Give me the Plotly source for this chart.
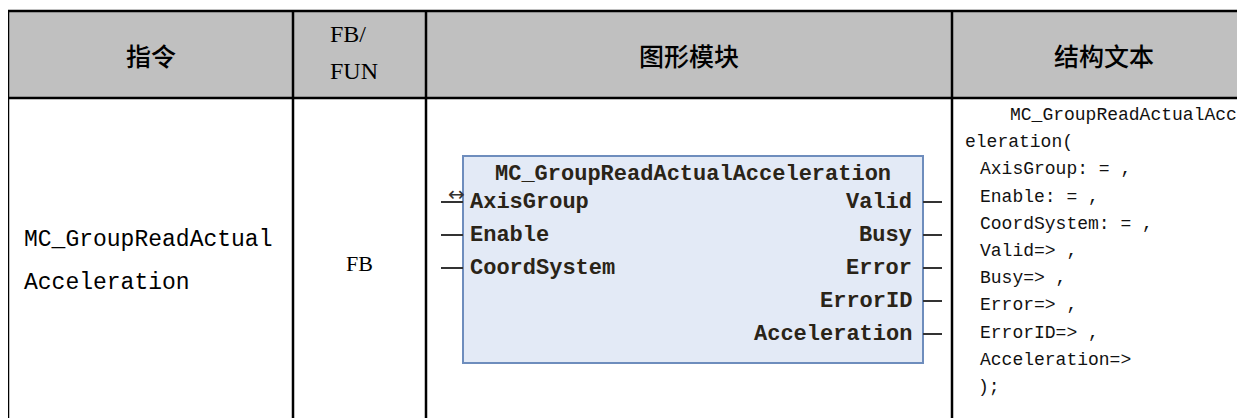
import plotly.graph_objects as go

# ---- table content ----
header_labels = ["指令", "FB/", "FUN", "图形模块", "结构文本"]
instruction_lines = ["MC_GroupReadActual", "Acceleration"]
fb_type = "FB"
block_title = "MC_GroupReadActualAcceleration"
block_inputs = ["AxisGroup", "Enable", "CoordSystem"]
block_outputs = ["Valid", "Busy", "Error", "ErrorID", "Acceleration"]
st_lines = [
    "MC_GroupReadActualAcc",
    "eleration(",
    "AxisGroup: = ,",
    "Enable: = ,",
    "CoordSystem: = ,",
    "Valid=> ,",
    "Busy=> ,",
    "Error=> ,",
    "ErrorID=> ,",
    "Acceleration=>",
    ");",
]

# ---- layout geometry (page pixel coordinates) ----
W, H = 1245, 418
OFF = 8  # page body margin
FW = W + OFF  # figure width
col_x = [8, 293, 426, 952]
top_y, head_y = 11, 98
pin_y0, pin_dy = 202, 33
blk_x0, blk_x1, blk_y0, blk_y1 = 463, 923, 156, 363
st_x = [1008, 963] + [978] * 8 + [976]
st_y0, st_dy = 115, 27.2

shapes = []
annotations = []

# header background
shapes.append(dict(type="rect", x0=col_x[0], x1=W + 30, y0=top_y, y1=head_y,
                   fillcolor="#C0C0C0", line=dict(width=0), layer="below"))
# horizontal lines
for yy in (top_y, head_y):
    shapes.append(dict(type="line", x0=col_x[0] - 1, x1=W + 30, y0=yy, y1=yy,
                       line=dict(color="black", width=2.5)))
# vertical lines
for xx in col_x:
    shapes.append(dict(type="line", x0=xx, x1=xx, y0=top_y, y1=H + 20,
                       line=dict(color="black", width=2.5)))

# header texts
hdr_font = dict(family="Noto Sans CJK SC", size=25, color="black", weight=500)
annotations.append(dict(x=(col_x[0] + col_x[1]) / 2, y=55, text=header_labels[0],
                        font=hdr_font, showarrow=False, xanchor="center", yanchor="middle"))
for t, yy in ((header_labels[1], 34), (header_labels[2], 71)):
    annotations.append(dict(x=328, y=yy, text=t,
                            font=dict(family="Liberation Serif", size=24, color="black"),
                            showarrow=False, xanchor="left", yanchor="middle"))
annotations.append(dict(x=689, y=55, text=header_labels[3], font=hdr_font,
                        showarrow=False, xanchor="center", yanchor="middle"))
annotations.append(dict(x=1104, y=55, text=header_labels[4], font=hdr_font,
                        showarrow=False, xanchor="center", yanchor="middle"))

# row: instruction name
for i, t in enumerate(instruction_lines):
    annotations.append(dict(x=22, y=240 + i * 43, text=t,
                            font=dict(family="Liberation Mono", size=23, color="black"),
                            showarrow=False, xanchor="left", yanchor="middle"))
# row: FB
annotations.append(dict(x=359, y=263, text=fb_type,
                        font=dict(family="Liberation Serif", size=22, color="black"),
                        showarrow=False, xanchor="center", yanchor="middle"))

# function block
shapes.append(dict(type="rect", x0=blk_x0, x1=blk_x1, y0=blk_y0, y1=blk_y1,
                   fillcolor="#E3EAF6", line=dict(color="#6E8DBD", width=2)))
blk_font = dict(family="Liberation Mono", size=22, color="#2a2418")
annotations.append(dict(x=(blk_x0 + blk_x1) / 2, y=174, text="<b>" + block_title + "</b>",
                        font=blk_font, showarrow=False, xanchor="center", yanchor="middle"))
for i, name in enumerate(block_inputs):
    yy = pin_y0 + i * pin_dy
    shapes.append(dict(type="line", x0=441, x1=blk_x0, y0=yy, y1=yy,
                       line=dict(color="#333333", width=2)))
    annotations.append(dict(x=468, y=yy, text="<b>" + name + "</b>", font=blk_font,
                            showarrow=False, xanchor="left", yanchor="middle"))
# in/out arrow marker for AxisGroup
annotations.append(dict(x=456, y=194, text="↔", font=dict(family="DejaVu Sans", size=20, color="#333333"),
                        showarrow=False, xanchor="center", yanchor="middle"))
for i, name in enumerate(block_outputs):
    yy = pin_y0 + i * pin_dy
    shapes.append(dict(type="line", x0=blk_x1, x1=942, y0=yy, y1=yy,
                       line=dict(color="#333333", width=2)))
    annotations.append(dict(x=914, y=yy, text="<b>" + name + "</b>", font=blk_font,
                            showarrow=False, xanchor="right", yanchor="middle"))

# structured text
for i, t in enumerate(st_lines):
    annotations.append(dict(x=st_x[i], y=st_y0 + i * st_dy, text=t,
                            font=dict(family="Liberation Mono", size=18, color="#111111"),
                            showarrow=False, xanchor="left", yanchor="middle"))

fig = go.Figure()
fig.update_layout(
    width=FW, height=H,
    margin=dict(l=0, r=0, t=0, b=0),
    paper_bgcolor="white", plot_bgcolor="white",
    xaxis=dict(range=[OFF, FW + OFF], visible=False, fixedrange=True),
    yaxis=dict(range=[H + OFF, OFF], visible=False, fixedrange=True),
    shapes=shapes, annotations=annotations, showlegend=False,
)
fig.write_html("out.html")
